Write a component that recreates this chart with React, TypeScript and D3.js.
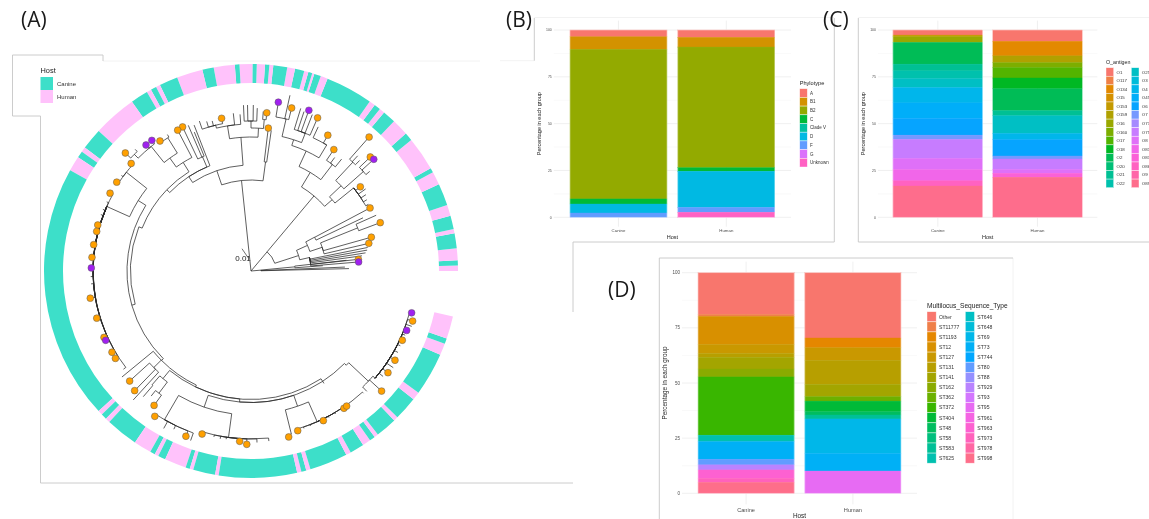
import React from "react";
import * as d3 from "d3";

const W = 1149;
const H = 519;
const FONT = "'Liberation Sans', Arial, sans-serif";

// ---------- panel A data: ring of hosts (angles counter-clockwise from east, degrees)
const ringBreaks = [0, 1.5, 3, 6.3, 10.5, 11.7, 15.5, 18.6, 24.8, 28.5, 29.8, 39.3, 41.6, 46.3, 50, 51.5, 53.3, 55, 68.3, 70.3, 72.2, 72.8, 73.9, 75.1, 77.7, 79.9, 83.8, 84.9, 86.1, 88.4, 89.6, 93.2, 94.5, 100.4, 103.6, 110.9, 116.1, 117.3, 118.9, 120.2, 125.1, 137.4, 143.4, 144.8, 146.7, 150.9, 222.6, 223.9, 225.5, 226.8, 235.9, 240.9, 242.3, 243.4, 245.5, 251.6, 252.8, 253.8, 260, 261, 282.9, 284.1, 285.5, 286.7, 297.4, 298.8, 302.8, 305.1, 306.7, 307.8, 313.8, 315, 321.7, 324, 336.1, 339.4, 341, 347.3];
const ringStartHost = "Human";
const hostNames = ["Canine", "Human"];

// branch table: id, parent, angle (deg), distance from root, tip marker
type Branch = [string, string, number, number, string?];
const eastBranches: Branch[] = [
  ["n1", "root", 50, 25], ["c1", "n1", 50, 98], ["c2", "c1", 59, 115], ["c3", "c2", 65.3, 132], ["c4", "c3", 72, 138],
  ["d1", "c4", 77, 156], ["", "d1", 80.8, 171, "p"], ["", "d1", 76, 168, "o"], ["", "d1", 77.5, 180],
  ["d2", "c4", 68.5, 148], ["", "d2", 73, 170], ["", "d2", 71.6, 168], ["", "d2", 70.2, 170.8, "p"], ["", "d2", 68.6, 168], ["", "d2", 66.5, 167, "o"],
  ["c5", "c3", 59, 147], ["", "c5", 60.5, 156, "o"], ["", "c5", 65, 159],
  ["c6", "c2", 52.6, 134], ["", "c6", 55.7, 147, "o"], ["", "c6", 53.6, 141], ["", "c6", 51, 144],
  ["c7", "c1", 41.3, 108], ["c8", "c7", 43.4, 124],
  ["f1", "c8", 46.9, 149], ["", "f1", 48.6, 178.6, "o"], ["", "f1", 47.2, 157], ["", "f1", 45.5, 155],
  ["f2", "c8", 41.5, 150], ["", "f2", 43.7, 165, "o"], ["", "f2", 42.3, 166, "p"], ["", "f2", 40, 155],
  ["c9", "c7", 39, 132], ["", "c9", 37.6, 138, "o"], ["", "c9", 35.6, 141], ["", "c9", 33.6, 138], ["", "c9", 31.6, 136], ["", "c9", 29.6, 135],
  ["n2", "n1", 18, 50], ["g1", "n2", 24.4, 62], ["g2", "g1", 28, 72], ["", "g2", 27.9, 134.7, "o"], ["", "g2", 25.4, 124],
  ["g3", "g1", 18.4, 75], ["g5", "g3", 22, 115], ["", "g5", 20.5, 138, "o"], ["", "g5", 24, 137], ["", "g3", 15.7, 125, "o"], ["", "g3", 13.2, 121, "o"],
  ["g4", "n2", 13, 60], ["", "g4", 11.4, 119], ["", "g4", 10.2, 118], ["", "g4", 9, 116], ["", "g4", 7.8, 112], ["", "g4", 6.2, 108, "o"], ["", "g4", 4.8, 108, "p"],
  ["n3", "root", 5, 10], ["g6", "n3", 5.4, 44], ["", "g6", 6.4, 96], ["", "g6", 4.2, 72], ["", "n3", 2.4, 94], ["", "n3", 1.4, 98],
];
const northBranches: Branch[] = [
  ["A", "root", 96, 91], ["a1", "A", 82.4, 110], ["", "a1", 83.1, 144, "o"], ["", "a1", 81.8, 142],
  ["B", "A", 108.8, 106], ["C", "B", 94.3, 134], ["C1", "C", 99.2, 147], ["C1a", "C1", 103.6, 150],
  ["", "C1a", 100.9, 155.5, "o"], ["", "C1a", 104.5, 155], ["", "C1a", 106.5, 156], ["", "C1a", 109, 158.6],
  ["", "C1", 94, 157], ["", "C1", 96.4, 158.7],
  ["C2", "C", 87, 143], ["C2a", "C2", 90, 150], ["", "C2a", 92.6, 166], ["", "C2a", 91.2, 166], ["", "C2a", 89.2, 166], ["", "C2a", 87.8, 163],
  ["C2b", "C2", 85, 152], ["", "C2b", 84.3, 159, "o"], ["", "C2b", 85.6, 160],
  ["D", "B", 123.4, 113], ["", "D", 111.3, 156.6], ["E2", "D", 113, 124], ["", "E2", 113.3, 158.6], ["", "E2", 115.4, 159.5, "o"], ["", "E2", 112.2, 150],
];
const westBranches: Branch[] = [
  ["F", "D", 136, 117], ["P", "F", 122, 128], ["", "P", 117.5, 158.8, "o"], ["Pb", "P", 125.7, 139],
  ["Pc", "Pb", 122, 157], ["", "Pc", 125, 158.7, "o"], ["", "Pc", 121.5, 160],
  ["Pd", "Pb", 128.7, 159.6], ["", "Pd", 127.2, 164, "p"], ["", "Pd", 129.8, 164, "p"], ["Pe", "Pd", 135, 165], ["", "Pe", 136.8, 172.4, "o"], ["", "Pe", 133.6, 168],
  ["H", "F", 158.5, 120.5], ["H2", "H", 196, 124], ["Q", "H2", 148, 133],
  ["Q1", "Q", 141.6, 159], ["", "Q1", 138.1, 161, "o"], ["", "Q1", 143.6, 161], ["", "Q1", 146.5, 161, "o"],
  ["Q2", "Q", 155.9, 158],
  ["", "Q2", 151.1, 161, "o"], ["", "Q2", 154.4, 160], ["", "Q2", 157.4, 160.4], ["", "Q2", 159.4, 160.4], ["", "Q2", 163.3, 160, "o"], ["", "Q2", 165.6, 159.3, "o"], ["", "Q2", 170.5, 159.5, "o"], ["", "Q2", 175.1, 159.6, "o"],
  ["", "Q2", 178.9, 159.7, "p"], ["", "Q2", 182, 160.4], ["", "Q2", 184.6, 160.4], ["", "Q2", 189.6, 163, "o"], ["", "Q2", 197, 161.3, "o"], ["", "Q2", 204.3, 161.3, "o"], ["", "Q2", 205.5, 161, "p"], ["", "Q2", 210.3, 161, "o"], ["", "Q2", 212.8, 161.3, "o"], ["", "Q2", 217.6, 161],
];
const southBranches: Branch[] = [
  ["K", "H2", 225, 126.5], ["", "K", 219.4, 167], ["R2", "K", 224.8, 137], ["", "R2", 222.2, 163.8, "o"], ["", "R2", 225.8, 166.9, "o"], ["", "R2", 227.6, 174.6],
  ["K2", "K", 244.4, 128.5], ["R3", "K2", 230.7, 139], ["R4", "R3", 229, 151], ["", "R4", 229.4, 165.5], ["R5", "R3", 233, 153], ["", "R5", 234.2, 165.7, "o"], ["", "R5", 231.4, 160],
  ["L", "K2", 265, 131.5], ["S", "L", 251, 144], ["S1", "S", 239.8, 172], ["", "S1", 236.5, 174.3, "o"], ["", "S1", 241, 180], ["", "S1", 244, 176], ["", "S1", 248.5, 177.6, "o"], ["", "S1", 250.4, 180],
  ["S2", "S", 262.3, 168], ["", "S2", 253.3, 170.2, "o"], ["", "S2", 257.4, 170], ["", "S2", 259.6, 170.6], ["", "S2", 261.6, 170], ["", "S2", 266.2, 170.7, "o"], ["", "S2", 268.6, 173.4, "o"], ["", "S2", 272, 171.6], ["", "S2", 276, 171],
  ["N", "L", 289, 143], ["N1", "N", 283.9, 168], ["", "N1", 282.8, 170.2, "o"],
  ["N2", "N", 293.7, 164.6], ["", "N2", 286.3, 166.4, "o"], ["", "N2", 288.6, 166], ["", "N2", 291, 166], ["", "N2", 295.8, 166.2, "o"], ["", "N2", 298, 166], ["", "N2", 300.6, 166], ["", "N2", 304.1, 165.8, "o"], ["", "N2", 305.3, 165.5, "o"], ["", "N2", 312.6, 166],
  ["Lb", "K2", 303, 134],
  ["M", "L", 315.3, 134], ["M1", "M", 316.8, 161], ["", "M1", 313.9, 167], ["", "M1", 317.4, 177.4, "o"], ["M2", "M1", 319.2, 164],
  ["", "M2", 321.4, 169], ["", "M2", 323.4, 170.6, "o"], ["", "M2", 325.8, 172], ["", "M2", 328.2, 169.4, "o"], ["", "M2", 331, 168], ["", "M2", 333.4, 167], ["", "M2", 335.4, 166.4, "o"], ["", "M2", 337.4, 167], ["", "M2", 339.1, 166.6, "p"], ["", "M2", 341, 170], ["", "M2", 342.8, 169.2, "o"], ["", "M2", 345.4, 166, "p"],
];

// ---------- panel B data
const phylotypes = ["A", "B1", "B2", "C", "Clade V", "D", "F", "G", "Unknown"];
const phyloCanine = [3.6, 6.7, 79.9, 2.7, 0, 4.8, 2.3, 0, 0];
const phyloHuman = [3.9, 5.2, 64.4, 1.9, 0, 19.3, 2.6, 0, 2.7];

// ---------- panel C data
const oAntigens = ["O1", "O117", "O134", "O15", "O153", "O159", "O16", "O160", "O17", "O18", "O2", "O20", "O21", "O22", "O25", "O3", "O4", "O45", "O6", "O7", "O73", "O75", "O8", "O81", "O83", "O86", "O9", "O89"];
const oCanine = [2.7, 0, 0, 0, 0.9, 0, 3, 0, 0, 0, 11.6, 0, 3.6, 4.1, 4.8, 0, 8.2, 8.3, 8.9, 2.3, 0, 10.1, 6, 6, 0, 2.8, 0, 16.7];
const oHuman = [6, 0, 7.8, 0, 0, 3.6, 0, 2.7, 5.5, 5.7, 11.7, 0, 2.7, 0, 9.4, 0, 3.4, 0, 8.7, 1.6, 0, 5.5, 2.1, 0, 2.1, 0, 0, 21.4];

// ---------- panel D data
const seqTypes = ["Other", "ST11777", "ST1193", "ST12", "ST127", "ST131", "ST141", "ST162", "ST362", "ST372", "ST404", "ST48", "ST58", "ST583", "ST625", "ST646", "ST648", "ST69", "ST73", "ST744", "ST80", "ST88", "ST929", "ST93", "ST95", "ST961", "ST963", "ST973", "ST978", "ST998"];
const stCanine = [18.9, 0.9, 0, 12.7, 4.1, 1.8, 5.3, 3.6, 0, 26.4, 0, 0, 0, 0, 2.9, 0, 0, 0, 8, 0, 2.6, 0, 2.3, 0, 0, 0, 3.8, 1.8, 0, 5];
const stHuman = [29.6, 0, 4.4, 0, 5.7, 10.9, 5.6, 0, 2, 0, 4.8, 1.5, 0, 1.8, 0, 0, 0, 15.6, 8, 0, 0, 0, 0, 0, 10.1, 0, 0, 0, 0, 0];

const yTicks = [0, 25, 50, 75, 100];
const yMinorTicks = [12.5, 37.5, 62.5, 87.5];

// ggplot2's default discrete hue palette (polar LUV to sRGB)
function hue(i: number, n: number) {
  const h = ((15 + (360 * i) / n) * Math.PI) / 180;
  const L = 65, C = 100;
  const Y = Math.pow((L + 16) / 116, 3);
  const U = (C * Math.cos(h)) / (13 * L) + 0.19783;
  const V = (C * Math.sin(h)) / (13 * L) + 0.46832;
  const X = (9 * Y * U) / (4 * V);
  const Z = -X / 3 - 5 * Y + (3 * Y) / V;
  const lin = [3.2406 * X - 1.5372 * Y - 0.4986 * Z, -0.9689 * X + 1.8758 * Y + 0.0415 * Z, 0.0557 * X - 0.204 * Y + 1.057 * Z];
  const g = lin.map((c) => {
    const v = c <= 0.0031308 ? 12.92 * c : 1.055 * Math.pow(c, 1 / 2.4) - 0.055;
    return Math.round(255 * Math.min(1, Math.max(0, v)));
  });
  return d3.rgb(g[0], g[1], g[2]).formatHex();
}

const GREY = "#4d4d4d";

type PanelProps = {
  levels: string[]; canine: number[]; human: number[]; title: string;
  xRange: [number, number]; yRange: [number, number]; legendX: number[]; legendY: number; step: number; rows: number; keyW: number;
  tickSize: number; axisSize: number; legendSize: number; titleSize: number; yLabelX: number; xLabelY: number; hostY: number; legendTitleY: number;
};

function StackPanel(p: PanelProps) {
  const groups = ["Canine", "Human"];
  const x = d3.scaleBand().domain(groups).range(p.xRange).paddingInner(0.1).paddingOuter(0.15);
  const y = d3.scaleLinear().domain([0, 100]).range(p.yRange);
  const pad = (p.yRange[0] - p.yRange[1]) * 0.05;
  const rows = groups.map((g, gi) => {
    const r: any = { g };
    p.levels.forEach((l, i) => (r[l] = (gi === 0 ? p.canine : p.human)[i]));
    return r;
  });
  const series = d3.stack().keys(p.levels).offset(d3.stackOffsetExpand)(rows);
  const colors = p.levels.map((_, i) => hue(i, p.levels.length));
  return (
    <g fontFamily={FONT}>
      {yMinorTicks.map((t) => <line key={t} x1={p.xRange[0]} x2={p.xRange[1]} y1={y(t)} y2={y(t)} stroke="#f3f3f3" strokeWidth={0.5} />)}
      {yTicks.map((t) => <line key={t} x1={p.xRange[0]} x2={p.xRange[1]} y1={y(t)} y2={y(t)} stroke="#ececec" strokeWidth={0.8} />)}
      {groups.map((g) => {
        const c = x(g)! + x.bandwidth() / 2;
        return <line key={g} x1={c} x2={c} y1={p.yRange[1] - pad} y2={p.yRange[0] + pad} stroke="#ececec" strokeWidth={0.8} />;
      })}
      {series.map((s, i) => s.map((d: any, j) => {
        if (d[1] - d[0] <= 0) return null;
        const top = y(100 - d[0] * 100);
        const bottom = y(100 - d[1] * 100);
        return <rect key={i + "-" + j} x={x(groups[j])!} width={x.bandwidth()} y={top} height={bottom - top} fill={colors[i]} stroke={colors[i]} strokeWidth={0.35} />;
      }))}
      {groups.map((g) => <rect key={g} x={x(g)!} width={x.bandwidth()} y={p.yRange[1]} height={p.yRange[0] - p.yRange[1]} fill="none" stroke="#fff" strokeOpacity={0.55} strokeWidth={0.7} />)}
      {yTicks.map((t) => <text key={t} x={p.xRange[0] - 2} y={y(t) + p.tickSize * 0.36} textAnchor="end" fontSize={p.tickSize} fill={GREY}>{t}</text>)}
      {groups.map((g) => <text key={g} x={x(g)! + x.bandwidth() / 2} y={p.xLabelY} textAnchor="middle" fontSize={p.tickSize * 1.25} fill={GREY}>{g}</text>)}
      <text x={(p.xRange[0] + p.xRange[1]) / 2} y={p.hostY} textAnchor="middle" fontSize={p.axisSize} fill="#222">Host</text>
      <text transform={`translate(${p.yLabelX},${(p.yRange[0] + p.yRange[1]) / 2}) rotate(-90)`} textAnchor="middle" fontSize={p.axisSize} fill="#222">Percentage in each group</text>
      <text x={p.legendX[0]} y={p.legendTitleY} fontSize={p.titleSize} fill="#222">{p.title}</text>
      {p.levels.map((l, i) => {
        const col = Math.floor(i / p.rows);
        const row = i % p.rows;
        const kx = p.legendX[col];
        const ky = p.legendY + row * p.step;
        return (
          <g key={l}>
            <rect x={kx} y={ky} width={p.keyW} height={p.step} fill={colors[i]} stroke="#fff" strokeOpacity={0.7} strokeWidth={0.6} />
            <text x={kx + p.keyW + 2.8} y={ky + p.step / 2 + p.legendSize * 0.36} fontSize={p.legendSize} fill="#333">{l}</text>
          </g>
        );
      })}
    </g>
  );
}

function Phylogeny() {
  const cx = 251, cy = 271;
  const r = d3.scaleLinear().domain([0, 207]).range([0, 207]);
  const a = d3.scaleLinear().domain([0, 360]).range([0, -2 * Math.PI]);
  const pt = (deg: number, dist: number): [number, number] => [cx + r(dist) * Math.cos(a(deg)), cy + r(dist) * Math.sin(a(deg))];
  const ringIn = 188, ringOut = 207;
  const arcGen = d3.arc();
  const segs = ringBreaks.slice(0, -1).map((b, i) => ({ from: b, to: ringBreaks[i + 1], host: i % 2 === 0 ? ringStartHost : hostNames.find((h) => h !== ringStartHost)! }));
  const hostColor: Record<string, string> = { Canine: "#3ddfc9", Human: "#ffc2fb" };

  const all = [...eastBranches, ...northBranches, ...westBranches, ...southBranches];
  const nodes = new Map<string, { angle: number; dist: number }>();
  nodes.set("root", { angle: 50, dist: 0 });
  all.forEach((b) => { if (b[0]) nodes.set(b[0], { angle: b[2], dist: b[3] }); });
  const paths = all.map((b) => {
    const par = nodes.get(b[1])!;
    const pth = d3.path();
    const [sx, sy] = pt(par.angle, par.dist);
    pth.moveTo(sx, sy);
    if (par.dist > 0 && par.angle !== b[2]) pth.arc(cx, cy, r(par.dist), a(par.angle), a(b[2]), b[2] > par.angle);
    const [ex, ey] = pt(b[2], b[3]);
    pth.lineTo(ex, ey);
    return pth.toString();
  });
  return (
    <g>
      {segs.map((s, i) => (
        <path key={i} transform={`translate(${cx},${cy})`} fill={hostColor[s.host]}
          d={arcGen({ innerRadius: r(ringIn), outerRadius: r(ringOut), startAngle: Math.PI / 2 - (s.to * Math.PI) / 180, endAngle: Math.PI / 2 - (s.from * Math.PI) / 180 })!} />
      ))}
      {paths.map((d, i) => <path key={i} d={d} fill="none" stroke="#2a2a2a" strokeWidth={0.75} />)}
      <path d={`M${pt(112, 24)[0]},${pt(112, 24)[1]}L${pt(103, 14)[0]},${pt(103, 14)[1]}`} stroke="#333" strokeWidth={0.7} />
      <text x={243} y={260.5} textAnchor="middle" fontFamily={FONT} fontSize={8} fill="#222">0.01</text>
      {all.filter((b) => b[4]).map((b, i) => {
        const [px, py] = pt(b[2], b[3]);
        return <circle key={i} cx={px} cy={py} r={3.4} fill={b[4] === "o" ? "#ffa000" : "#a020f0"} stroke="#5a5a5a" strokeWidth={0.5} />;
      })}
    </g>
  );
}

const frameLines = [
  "M12.5,116V55H103V61",
  "M12.5,116H40.5V483H573",
  "M534.3,18V60.7",
  "M573,312V242H834.3V18",
  "M1149,242H858.3V18",
  "M659.3,519V258H1013",
];
const faintLines = ["M103,61H480", "M500,60.7H534.3", "M534.3,17.5H834", "M858.3,17.5H1149", "M1013,258V519"];

export default function App() {
  return (
    <svg width={W} height={H} viewBox={`0 0 ${W} ${H}`} style={{ position: "absolute", left: 0, top: 0, display: "block", background: "#fff", filter: "blur(0.3px)" }}>
      {faintLines.map((d) => <path key={d} d={d} fill="none" stroke="#efefef" strokeWidth={0.8} />)}
      {frameLines.map((d) => <path key={d} d={d} fill="none" stroke="#c6c6c6" strokeWidth={0.9} />)}
      <g fontFamily="'Open Sans', sans-serif" fontSize={21} fill="#1a1a1a">
        <text x={21} y={27}>(A)</text>
        <text x={506} y={27}>(B)</text>
        <text x={823} y={27}>(C)</text>
        <text x={608} y={297}>(D)</text>
      </g>
      <Phylogeny />
      <g fontFamily={FONT}>
        <text x={40.5} y={72.5} fontSize={7.4} fill="#222">Host</text>
        {hostNames.map((h, i) => (
          <g key={h}>
            <rect x={40.5} y={77 + i * 13} width={12.5} height={13} fill={i === 0 ? "#3ddfc9" : "#ffc2fb"} />
            <text x={57} y={86 + i * 13} fontSize={6} fill="#333">{h}</text>
          </g>
        ))}
      </g>
      <StackPanel levels={phylotypes} canine={phyloCanine} human={phyloHuman} title="Phylotype" xRange={[553.8, 791]} yRange={[217.3, 30]}
        legendX={[799.7]} legendY={88.7} step={8.7} rows={9} keyW={7.6} tickSize={3.5} axisSize={5.5} legendSize={4.5} titleSize={5.6} yLabelX={540.5} xLabelY={232.4} hostY={238.6} legendTitleY={85.4} />
      <StackPanel levels={oAntigens} canine={oCanine} human={oHuman} title="O_antigen" xRange={[878, 1097.3]} yRange={[217.3, 30]}
        legendX={[1106, 1131.3]} legendY={67.7} step={8.57} rows={14} keyW={7.7} tickSize={3.5} axisSize={5.5} legendSize={4.4} titleSize={5.3} yLabelX={865} xLabelY={232.4} hostY={238.6} legendTitleY={64} />
      <StackPanel levels={seqTypes} canine={stCanine} human={stHuman} title="Multilocus_Sequence_Type" xRange={[682, 917]} yRange={[493.3, 272.7]}
        legendX={[927, 965.3]} legendY={311.7} step={10.1} rows={15} keyW={9.2} tickSize={4.5} axisSize={6.4} legendSize={5.1} titleSize={6.6} yLabelX={667} xLabelY={511.5} hostY={518} legendTitleY={308} />
    </svg>
  );
}
